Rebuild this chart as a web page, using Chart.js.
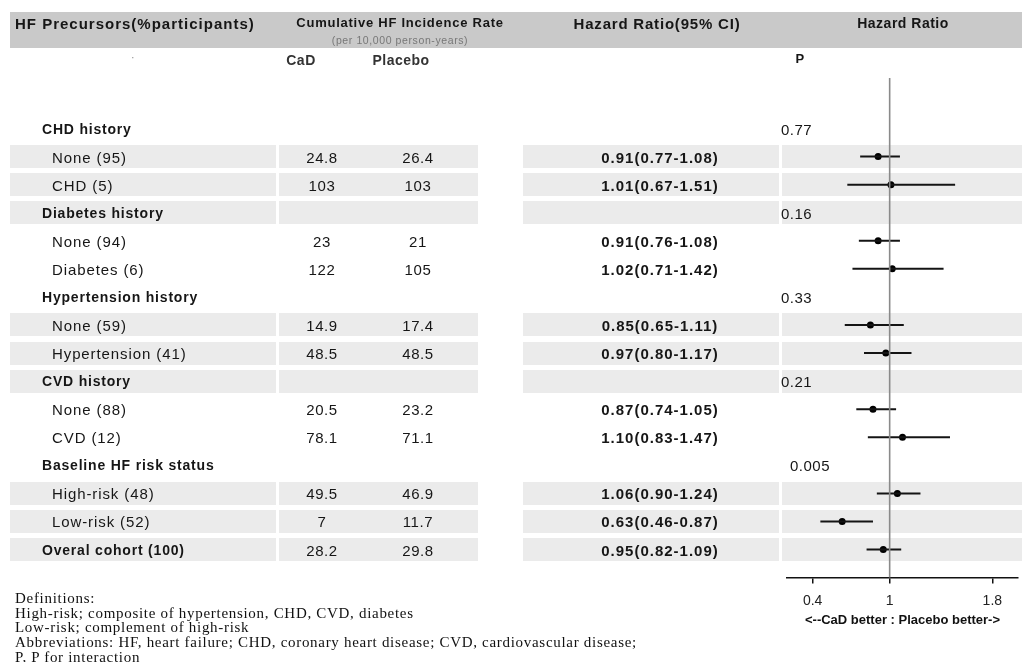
<!DOCTYPE html>
<html>
<head>
<meta charset="utf-8">
<script src="https://cdn.jsdelivr.net/npm/chart.js@4.4.0/dist/chart.umd.js"></script>
<style>
  html, body { margin: 0; padding: 0; background: #fff; }
  #page { position: relative; width: 1022px; height: 662px; overflow: hidden; background: #fff;
          font-family: "Liberation Sans", Arial, sans-serif; color: #161616; }
  #page canvas { position: absolute; left: 0; top: 0; }
  .band { position: absolute; background: #ebebeb; }
  .hdr { position: absolute; left: 10px; top: 12px; width: 1012px; height: 36px; background: #c9c9c9; }
  .t { position: absolute; white-space: nowrap; transform: translateY(-50%); letter-spacing: 0.5px; }
  .c { transform: translate(-50%, -50%); }
  .b { font-weight: bold; }
  .serif { font-family: "Liberation Serif", "Times New Roman", serif; font-size: 15px; letter-spacing: 0.7px; color: #111; }
</style>
</head>
<body>
<div id="page">
  <div class="hdr"></div>
  <div id="bands"></div>
  <canvas id="forest" width="1022" height="662"></canvas>
  <div id="texts"></div>
</div>
<script>
// rows of the table, top to bottom
const rowLabels = ['CHD history', 'None (95)', 'CHD (5)',
    'Diabetes history', 'None (94)', 'Diabetes (6)',
    'Hypertension history', 'None (59)', 'Hypertension (41)',
    'CVD history', 'None (88)', 'CVD (12)',
    'Baseline HF risk status', 'High-risk (48)', 'Low-risk (52)',
    'Overal cohort (100)'];
const boldRows = [0, 3, 6, 9, 12, 15];
const shadedRows = [1, 2, 3, 7, 8, 9, 13, 14, 15];

// cumulative HF incidence rate (per 10,000 person-years)
const cadRate     = [null, '24.8', '103', null, '23', '122', null, '14.9', '48.5', null, '20.5', '78.1', null, '49.5', '7', '28.2'];
const placeboRate = [null, '26.4', '103', null, '21', '105', null, '17.4', '48.5', null, '23.2', '71.1', null, '46.9', '11.7', '29.8'];

// hazard ratio and 95% CI
const hazardRatio = [null, 0.91, 1.01, null, 0.91, 1.02, null, 0.85, 0.97, null, 0.87, 1.10, null, 1.06, 0.63, 0.95];
const ciLow       = [null, 0.77, 0.67, null, 0.76, 0.71, null, 0.65, 0.80, null, 0.74, 0.83, null, 0.90, 0.46, 0.82];
const ciHigh      = [null, 1.08, 1.51, null, 1.08, 1.42, null, 1.11, 1.17, null, 1.05, 1.47, null, 1.24, 0.87, 1.09];

// P for interaction, on the group heading rows
const pInteraction = ['0.77', null, null, '0.16', null, null, '0.33', null, null, '0.21', null, null, '0.005', null, null, null];

const xTicks = [0.4, 1, 1.8];

const definitions = [
    'Definitions:',
    'High-risk; composite of hypertension, CHD, CVD, diabetes',
    'Low-risk; complement of high-risk',
    'Abbreviations: HF, heart failure; CHD, coronary heart disease; CVD, cardiovascular disease;',
    'P, P for interaction'
];

const datasets = [];

// reference line at HR = 1
datasets.push({
    type: 'line',
    data: [{ x: 1, y: -1.8 }, { x: 1, y: 16.2 }],
    borderColor: '#8a8a8a',
    borderWidth: 1.6,
    pointRadius: 0
});

// confidence interval whiskers
rowLabels.forEach((label, i) => {
    if (hazardRatio[i] === null) return;
    datasets.push({
        type: 'line',
        data: [{ x: ciLow[i], y: i }, { x: ciHigh[i], y: i }],
        borderColor: '#141414',
        borderWidth: 2,
        pointRadius: 0
    });
});

// point estimates
datasets.push({
    type: 'scatter',
    data: rowLabels.map((label, i) => hazardRatio[i] === null ? null : { x: hazardRatio[i], y: i }).filter(p => p),
    backgroundColor: '#000',
    borderWidth: 0,
    pointRadius: 3.5
});

const chart = new Chart(document.getElementById('forest'), {
    type: 'scatter',
    data: { datasets },
    options: {
        responsive: false,
        animation: false,
        devicePixelRatio: 1,
        events: [],
        layout: { padding: { left: 787, right: 0, top: 78, bottom: 34 } },
        plugins: { legend: { display: false }, tooltip: { enabled: false } },
        scales: {
            x: {
                type: 'linear',
                min: 0.2,
                max: 2.0,
                afterBuildTicks: (scale) => { scale.ticks = xTicks.map(v => ({ value: v })); },
                ticks: {
                    color: '#222',
                    padding: 9,
                    font: { family: '"Liberation Sans", Arial, sans-serif', size: 14 },
                    callback: (v) => String(v)
                },
                grid: { drawOnChartArea: false, drawTicks: true, tickLength: 6, color: '#111', lineWidth: 1.5 },
                border: { display: true, color: '#111', width: 1.5 },
                title: {
                    display: true,
                    text: '<--CaD better : Placebo better->',
                    color: '#111',
                    font: { family: '"Liberation Sans", Arial, sans-serif', size: 13, weight: 'bold' },
                    padding: { top: -6, bottom: 0 }
                }
            },
            y: { type: 'linear', min: -1.8, max: 16, reverse: true, display: false }
        }
    }
});

// table text and shading, aligned to the chart's own row scale
const yScale = chart.scales.y;
const bandsEl = document.getElementById('bands');
const textsEl = document.getElementById('texts');

function addText(str, x, y, opts) {
    const el = document.createElement('div');
    el.className = 't' + (opts.center ? ' c' : '') + (opts.bold ? ' b' : '') + (opts.cls ? ' ' + opts.cls : '');
    el.textContent = str;
    el.style.left = x + 'px';
    el.style.top = y + 'px';
    if (opts.size) el.style.fontSize = opts.size + 'px';
    if (opts.color) el.style.color = opts.color;
    if (opts.ls !== undefined) el.style.letterSpacing = opts.ls + 'px';
    textsEl.appendChild(el);
}

const bandSegments = [[10, 276], [279, 478], [523, 779], [782, 1022]];
shadedRows.forEach(i => {
    const yc = yScale.getPixelForValue(i);
    bandSegments.forEach(([x0, x1]) => {
        const b = document.createElement('div');
        b.className = 'band';
        b.style.left = x0 + 'px';
        b.style.width = (x1 - x0) + 'px';
        b.style.top = (yc - 11.5) + 'px';
        b.style.height = '23px';
        bandsEl.appendChild(b);
    });
});

// header
addText('HF Precursors(%participants)', 15, 23, { bold: true, size: 15, ls: 1.0 });
addText('Cumulative HF Incidence Rate', 400, 22, { bold: true, size: 13, center: true, ls: 0.75 });
addText('(per 10,000 person-years)', 400, 40, { size: 10.5, center: true, color: '#777', ls: 0.6 });
addText('Hazard Ratio(95% CI)', 657, 23, { bold: true, size: 15, center: true, ls: 0.8 });
addText('Hazard Ratio', 903, 23, { bold: true, size: 14, center: true, ls: 0.5 });
addText('CaD', 301, 60, { bold: true, size: 14, center: true, color: '#333' });
addText('Placebo', 401, 60, { bold: true, size: 14, center: true, color: '#333' });
addText('P', 800, 58, { bold: true, size: 13, center: true });
addText('\u00b7', 133, 57, { size: 12, center: true, color: '#999' });

rowLabels.forEach((label, i) => {
    const y = yScale.getPixelForValue(i);
    const isBold = boldRows.includes(i);
    addText(label, isBold ? 42 : 52, y, { bold: isBold, size: isBold ? 14 : 15, ls: isBold ? 0.8 : 0.9 });
    if (cadRate[i] !== null) addText(cadRate[i], 322, y, { size: 15, center: true, ls: 0.6 });
    if (placeboRate[i] !== null) addText(placeboRate[i], 418, y, { size: 15, center: true, ls: 0.6 });
    if (hazardRatio[i] !== null) {
        const txt = hazardRatio[i].toFixed(2) + '(' + ciLow[i].toFixed(2) + '-' + ciHigh[i].toFixed(2) + ')';
        addText(txt, 660, y, { bold: true, size: 15, center: true, ls: 1.0 });
    }
    if (pInteraction[i] !== null) {
        addText(pInteraction[i], pInteraction[i].length > 4 ? 790 : 781, y, { size: 15, ls: 0.5 });
    }
});

definitions.forEach((line, k) => {
    addText(line, 15, 598 + k * 14.7, { cls: 'serif' });
});
</script>
</body>
</html>
